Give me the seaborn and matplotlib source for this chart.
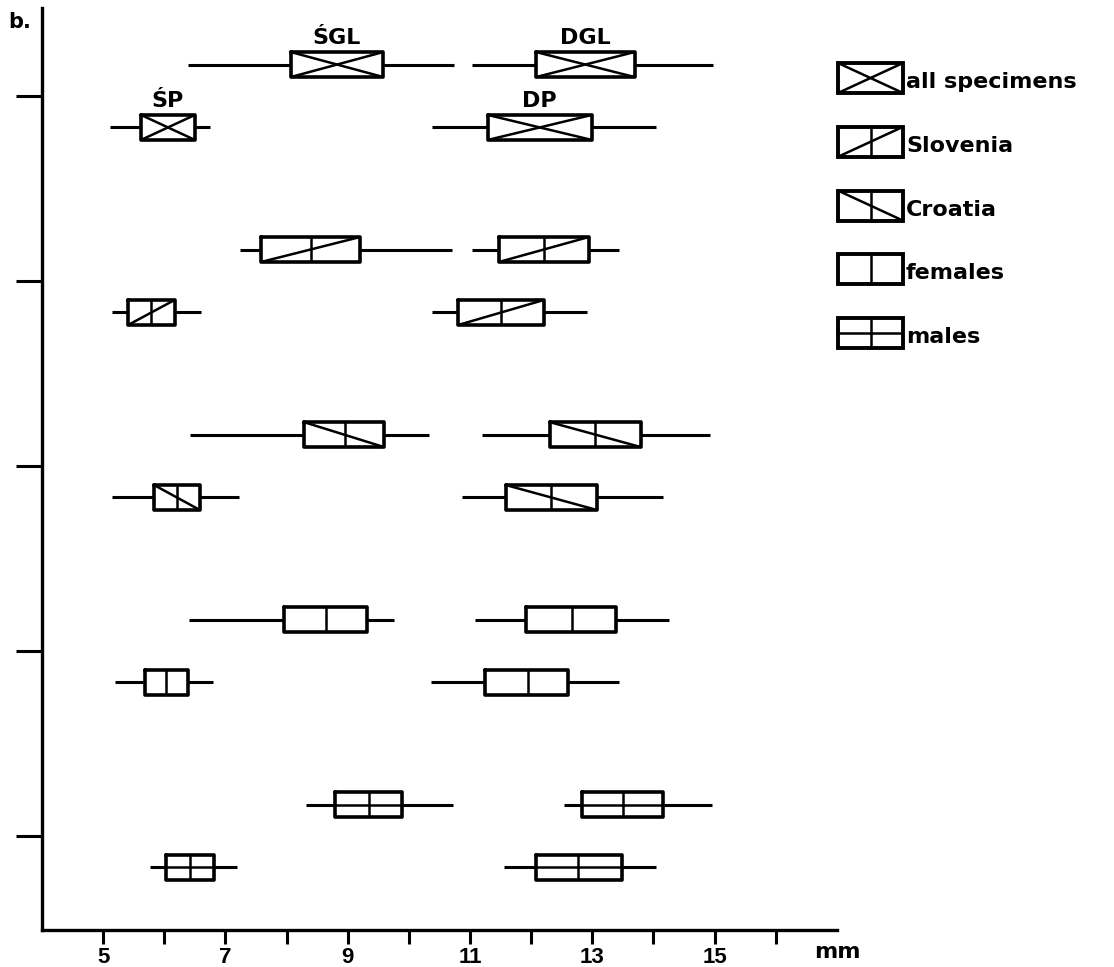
import matplotlib
matplotlib.use("Agg")
import seaborn as sns
from matplotlib import pyplot as plt
from matplotlib.patches import Rectangle


# groups, top to bottom, and the pattern used inside their boxes
groups = ["all specimens", "Slovenia", "Croatia", "females", "males"]
styles = ["cross", "rising", "falling", "plain", "split"]

# per group: (lower whisker, Q1, median, Q3, upper whisker) in mm
sgl = [[6.39, 8.07, 8.83, 9.58, 10.74],
       [7.24, 7.58, 8.40, 9.20, 10.70],
       [6.42, 8.28, 8.95, 9.59, 10.33],
       [6.41, 7.96, 8.64, 9.31, 9.76],
       [8.32, 8.79, 9.35, 9.89, 10.72]]
dgl = [[11.03, 12.08, 12.88, 13.69, 14.97],
       [11.03, 11.47, 12.21, 12.94, 13.43],
       [11.20, 12.30, 13.04, 13.79, 14.92],
       [11.08, 11.91, 12.66, 13.39, 14.25],
       [12.53, 12.83, 13.50, 14.16, 14.96]]
sp = [[5.11, 5.62, 6.06, 6.50, 6.75],
      [5.15, 5.41, 5.78, 6.17, 6.60],
      [5.15, 5.83, 6.21, 6.58, 7.22],
      [5.19, 5.69, 6.03, 6.39, 6.80],
      [5.77, 6.03, 6.42, 6.82, 7.19]]
dp = [[10.38, 11.29, 12.14, 12.99, 14.04],
      [10.38, 10.81, 11.50, 12.21, 12.91],
      [10.87, 11.58, 12.32, 13.07, 14.15],
      [10.36, 11.24, 11.94, 12.61, 13.43],
      [11.55, 12.08, 12.76, 13.49, 14.04]]

measure_names = ["ŚGL", "DGL", "ŚP", "DP"]
measure_values = [sgl, dgl, sp, dp]
row_offset = [-0.17, -0.17, 0.17, 0.17]   # upper row: ŚGL/DGL, lower row: ŚP/DP

x_ticks = [5, 7, 9, 11, 13, 15]
x_tick_labels = ["5", "7", "9", "11", "13", "15"]
x_minor = [6, 8, 10, 12, 14, 16]

sns.set_style("ticks")
plt.rcParams["font.family"] = ["DejaVu Sans"]
plt.rcParams["font.weight"] = "bold"
for key in ("text.color", "axes.edgecolor", "xtick.color", "ytick.color", "axes.labelcolor"):
    plt.rcParams[key] = "black"

BOX_H = 0.135
LW_BOX = 2.6
LW_WHISK = 2.2
LW_IN = 1.8


def draw_pattern(ax, style, x0, x1, yc, h):
    # y axis is inverted in the main plot, so "bottom" is yc + h/2
    top, bot = yc - h / 2, yc + h / 2
    kw = dict(color="black", lw=LW_IN, solid_capstyle="butt", zorder=4)
    if style in ("cross", "rising"):
        ax.plot([x0, x1], [bot, top], **kw)
    if style in ("cross", "falling"):
        ax.plot([x0, x1], [top, bot], **kw)
    if style == "split":
        ax.plot([x0, x1], [yc, yc], **kw)


fig = plt.figure(figsize=(11.14, 9.67), dpi=100)
ax = fig.add_axes([0.0377, 0.0383, 0.7136, 0.9535])

for gi, group in enumerate(groups):
    style = styles[gi]
    stats = []
    positions = []
    for mi, values in enumerate(measure_values):
        lo, q1, med, q3, hi = values[gi]
        stats.append(dict(whislo=lo, q1=q1, med=med, q3=q3, whishi=hi, fliers=[]))
        positions.append(gi + row_offset[mi])
    ax.bxp(stats, positions=positions, widths=BOX_H, orientation="horizontal",
           showcaps=False, showfliers=False, manage_ticks=False,
           boxprops=dict(color="black", linewidth=LW_BOX),
           whiskerprops=dict(color="black", linewidth=LW_WHISK, solid_capstyle="butt"),
           medianprops=dict(color="black", linewidth=LW_IN, visible=style != "cross"))
    for st, pos in zip(stats, positions):
        draw_pattern(ax, style, st["q1"], st["q3"], pos, BOX_H)

# measure names above the boxes of the first group
for mi, values in enumerate(measure_values):
    lo, q1, med, q3, hi = values[0]
    ax.text((q1 + q3) / 2, row_offset[mi] - BOX_H / 2 - 0.02, measure_names[mi],
            ha="center", va="bottom", fontsize=16, fontweight="bold")

ax.set_xlim(4, 17)
ax.set_ylim(4.508, -0.476)
ax.set_xticks(x_ticks)
ax.set_xticklabels(x_tick_labels, fontsize=16, fontweight="bold", family="Liberation Sans")
ax.set_xticks(x_minor, minor=True)
ax.set_yticks(range(len(groups)))
ax.set_yticklabels([])
ax.tick_params(axis="x", which="both", direction="out", length=10, width=2.2, pad=2)
ax.tick_params(axis="y", direction="out", length=19, width=2.2)
sns.despine(ax=ax)
for side in ("left", "bottom"):
    ax.spines[side].set_linewidth(2.4)
ax.text(17, -0.013, "mm", transform=ax.get_xaxis_transform(),
        ha="center", va="top", fontsize=16, fontweight="bold")

fig.text(0.007, 0.988, "b.", ha="left", va="top", fontsize=15, fontweight="bold")

# legend drawn in its own little axes, pixel-like coordinates
lax = fig.add_axes([830 / 1114, 1 - 360 / 967, 284 / 1114, 320 / 967])
lax.set_xlim(830, 1114)
lax.set_ylim(360, 40)
lax.axis("off")
for i, (group, style) in enumerate(zip(groups, styles)):
    yc = 78 + i * 63.8
    x0, x1, h = 838, 903, 30
    lax.add_patch(Rectangle((x0, yc - h / 2), x1 - x0, h, fill=False,
                            edgecolor="black", linewidth=2.8, zorder=5))
    draw_pattern(lax, style, x0, x1, yc, h)
    if style != "cross":
        lax.plot([(x0 + x1) / 2] * 2, [yc - h / 2, yc + h / 2], color="black", lw=LW_IN)
    lax.text(x1 + 3, yc + 4, group, ha="left", va="center", fontsize=16, fontweight="bold")

fig.savefig("out.png", dpi=100)
